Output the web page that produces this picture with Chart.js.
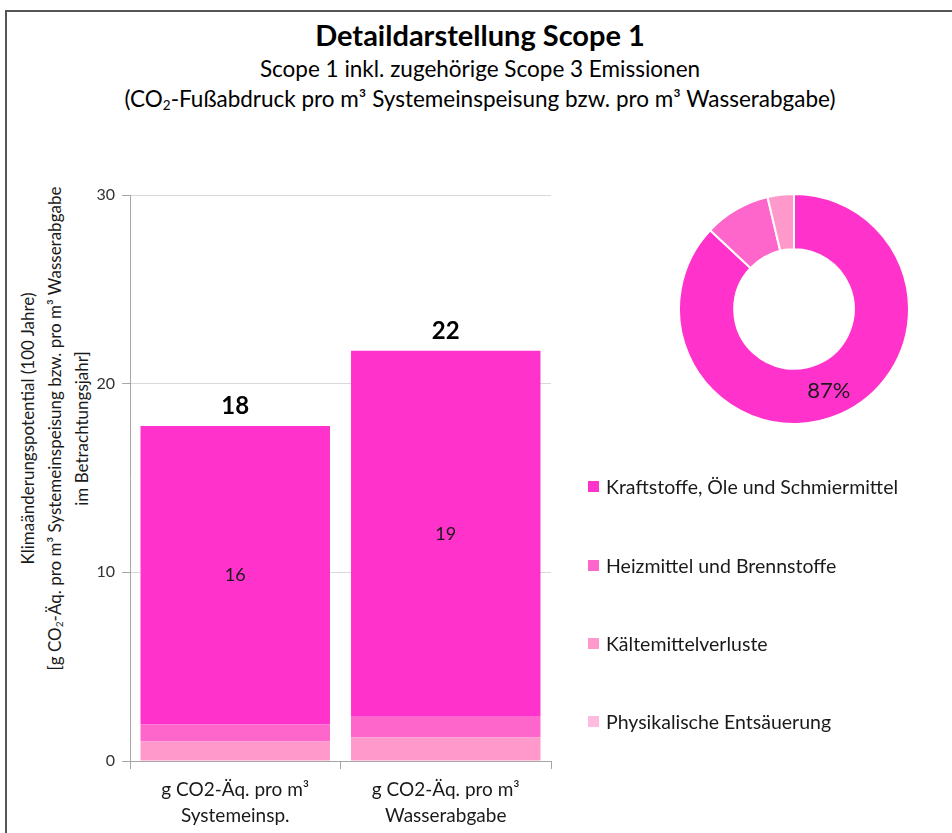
<!DOCTYPE html>
<html>
<head>
<meta charset="utf-8">
<script src="https://cdn.jsdelivr.net/npm/chart.js@4.4.1/dist/chart.umd.min.js"></script>
<style>
  html, body { margin: 0; padding: 0; background: #fff; overflow: hidden; }
  body { width: 952px; height: 833px; position: relative; font-family: Lato, sans-serif; color: #000; }
  .frame { position: absolute; left: 5px; top: 10px; width: 1200px; height: 1200px; border: 2px solid #555; }
  .title { position: absolute; left: 0; width: 960px; text-align: center; line-height: 1.2; }
  #t1 { top: 18px; font-size: 29px; font-weight: bold; }
  #t2 { top: 55px; font-size: 22.5px; }
  #t3 { top: 85px; font-size: 22.5px; }
  sub { font-size: 0.6em; vertical-align: -0.25em; line-height: 0; }
  #ytitle { position: absolute; width: 560px; left: -226px; top: 388px; text-align: center;
            font-size: 17px; line-height: 27px; color: #1a1a1a; transform: rotate(-90deg); }
  #barCanvas { position: absolute; left: 0; top: 0; }
  #donutWrap { position: absolute; left: 678px; top: 193px; width: 232px; height: 232px; }
  #legend { position: absolute; left: 588px; top: 0; font-size: 19.5px; color: #1a1a1a; }
  .lg { position: absolute; white-space: nowrap; display: flex; align-items: center; }
  .lg span.box { display: inline-block; width: 11px; height: 11px; margin-right: 7px; }
</style>
</head>
<body>
<div class="frame"></div>
<div class="title" id="t1">Detaildarstellung Scope 1</div>
<div class="title" id="t2">Scope 1 inkl. zugehörige Scope 3 Emissionen</div>
<div class="title" id="t3">(CO<sub>2</sub>-Fußabdruck pro m³ Systemeinspeisung bzw. pro m³ Wasserabgabe)</div>
<div id="ytitle">Klimaänderungspotential (100 Jahre)<br>[g CO<sub>2</sub>-Äq. pro m³ Systemeinspeisung bzw. pro m³ Wasserabgabe<br>im Betrachtungsjahr]</div>
<canvas id="barCanvas" width="952" height="833"></canvas>
<div id="donutWrap"><canvas id="donutCanvas"></canvas></div>
<div id="legend"></div>

<script>
// values
const categories = [['g CO2-Äq. pro m³', 'Systemeinsp.'], ['g CO2-Äq. pro m³', 'Wasserabgabe']];
const seriesNames = ['Kraftstoffe, Öle und Schmiermittel', 'Heizmittel und Brennstoffe', 'Kältemittelverluste', 'Physikalische Entsäuerung'];
const seriesColors = ['#ff33cc', '#ff66cc', '#ff99cc', '#ffbbe0'];
const kraftstoffe = [15.8, 19.4];
const heizmittel = [0.92, 1.08];
const kaeltemittel = [1.03, 1.26];
const entsaeuerung = [0, 0];
const donutShares = [87, 9.3, 3.7, 0];
const yTickValues = [0, 10, 20, 30];

Chart.defaults.font.family = 'Lato, sans-serif';
Chart.defaults.animation = false;

// bottom to top in the stack
const barSeries = [
    { name: seriesNames[3], data: entsaeuerung, color: seriesColors[3] },
    { name: seriesNames[2], data: kaeltemittel, color: seriesColors[2] },
    { name: seriesNames[1], data: heizmittel, color: seriesColors[1] },
    { name: seriesNames[0], data: kraftstoffe, color: seriesColors[0] }
];

// value inside the top segment and rounded total above each bar
const barLabels = {
    id: 'barLabels',
    afterDatasetsDraw(chart) {
        const ctx = chart.ctx;
        const topIdx = chart.data.datasets.length - 1;
        const meta = chart.getDatasetMeta(topIdx);
        ctx.save();
        ctx.textAlign = 'center';
        ctx.textBaseline = 'middle';
        meta.data.forEach((bar, i) => {
            const v = chart.data.datasets[topIdx].data[i];
            ctx.fillStyle = '#1a1a1a';
            ctx.font = '18px Lato';
            ctx.fillText(Math.round(v), bar.x, (bar.y + bar.base) / 2);
            const total = chart.data.datasets.reduce((s, ds) => s + ds.data[i], 0);
            ctx.fillStyle = '#000';
            ctx.font = 'bold 24px Lato';
            ctx.fillText(Math.round(total), bar.x, bar.y - 20);
        });
        ctx.restore();
    }
};

new Chart(document.getElementById('barCanvas'), {
    type: 'bar',
    data: {
        labels: categories,
        datasets: barSeries.map(s => ({
            label: s.name,
            data: s.data,
            backgroundColor: s.color,
            borderWidth: 0,
            barPercentage: 0.9,
            categoryPercentage: 1.0
        }))
    },
    options: {
        responsive: false,
        layout: { padding: { left: 0, right: 401, top: 195, bottom: 0 } },
        plugins: { legend: { display: false }, tooltip: { enabled: false } },
        scales: {
            x: {
                stacked: true,
                afterFit(scale) { scale.height = 72; },
                grid: { drawOnChartArea: false, tickLength: 8, color: '#a6a6a6', offset: true },
                border: { color: '#a6a6a6' },
                ticks: { color: '#1a1a1a', font: { size: 19, lineHeight: 1.35 }, padding: 8, maxRotation: 0 }
            },
            y: {
                stacked: true,
                min: 0,
                max: 30,
                afterFit(scale) { scale.width = 130; },
                afterBuildTicks(scale) { scale.ticks = yTickValues.map(v => ({ value: v })); },
                grid: { color: '#d9d9d9', tickColor: '#a6a6a6', tickLength: 8 },
                border: { color: '#a6a6a6' },
                ticks: { color: '#333', font: { size: 16 }, padding: 7 }
            }
        }
    },
    plugins: [barLabels]
});

// percentage of the largest slice
const donutLabel = {
    id: 'donutLabel',
    afterDatasetsDraw(chart) {
        const arc = chart.getDatasetMeta(0).data[0];
        const data = chart.data.datasets[0].data;
        const total = data.reduce((a, b) => a + b, 0);
        const p = arc.getCenterPoint();
        const ctx = chart.ctx;
        ctx.save();
        ctx.fillStyle = '#1a1a1a';
        ctx.font = '22px Lato';
        ctx.textAlign = 'center';
        ctx.textBaseline = 'middle';
        ctx.fillText(Math.round(data[0] / total * 100) + '%', p.x, p.y + 2);
        ctx.restore();
    }
};

new Chart(document.getElementById('donutCanvas'), {
    type: 'doughnut',
    data: {
        labels: seriesNames,
        datasets: [{
            data: donutShares,
            backgroundColor: seriesColors,
            borderColor: '#fff',
            borderWidth: 2
        }]
    },
    options: {
        responsive: true,
        maintainAspectRatio: false,
        cutout: '52%',
        plugins: { legend: { display: false }, tooltip: { enabled: false } }
    },
    plugins: [donutLabel]
});

// legend below the doughnut
const legendRows = [487, 566, 644, 722];
const legendEl = document.getElementById('legend');
seriesNames.forEach((name, i) => {
    const row = document.createElement('div');
    row.className = 'lg';
    row.style.top = (legendRows[i] - 12) + 'px';
    row.innerHTML = '<span class="box" style="background:' + seriesColors[i] + '"></span>' + name;
    legendEl.appendChild(row);
});
</script>
</body>
</html>
